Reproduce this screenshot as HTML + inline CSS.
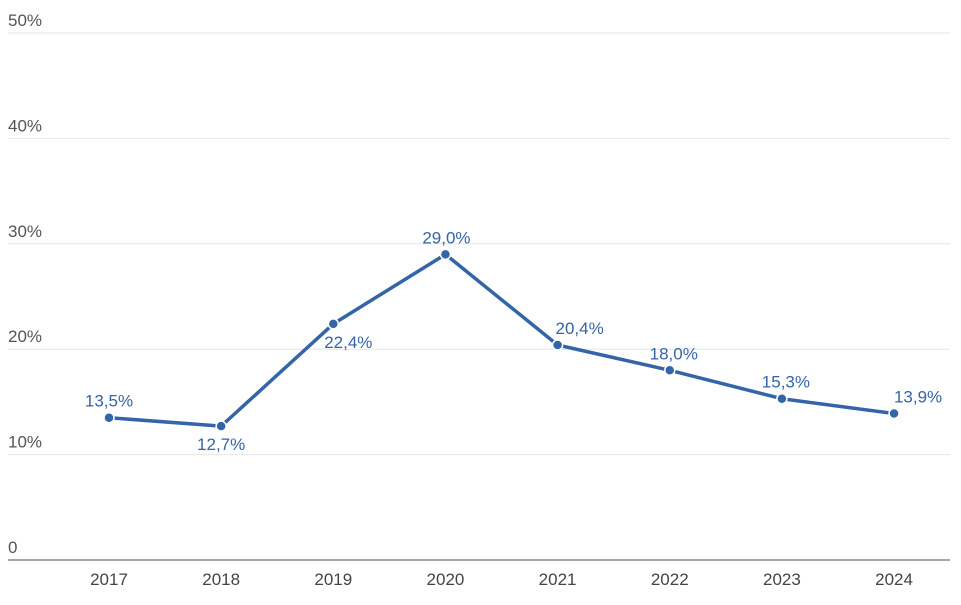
<!DOCTYPE html>
<html><head><meta charset="utf-8"><style>
body{margin:0;background:#fff;font-family:"Liberation Sans",sans-serif}
svg text{font-family:"Liberation Sans",sans-serif}
</style></head><body>
<svg id="chart" width="961" height="600" viewBox="0 0 961 600" xmlns="http://www.w3.org/2000/svg">
<g id="grid"></g><g id="yticks"></g><g id="xticks"></g><g id="series"></g><g id="labels"></g>
</svg>
<script>
const categories=["2017","2018","2019","2020","2021","2022","2023","2024"];
const values=[13.5,12.7,22.4,29.0,20.4,18.0,15.3,13.9];
const valueLabels=["13,5%","12,7%","22,4%","29,0%","20,4%","18,0%","15,3%","13,9%"];
const labelPlacement=["above","below","below","above","above","above","above","above"];
const yTicks=[0,10,20,30,40,50];
const yTickLabels=["0","10%","20%","30%","40%","50%"];
const NS="http://www.w3.org/2000/svg";
const x0=109,dx=112.15,yBase=560,pxPer=10.54;
const xs=i=>x0+i*dx;
const ys=v=>yBase-v*pxPer;
function mk(tag,attrs,parent){const e=document.createElementNS(NS,tag);for(const k in attrs)e.setAttribute(k,attrs[k]);parent.appendChild(e);return e;}
const grid=document.getElementById('grid'),yt=document.getElementById('yticks'),xt=document.getElementById('xticks'),se=document.getElementById('series'),lb=document.getElementById('labels');
yTicks.forEach((t,i)=>{
  const y=ys(t);
  const l=mk('line',{x1:8,x2:950,y1:y,y2:y,stroke:t===0?'#888':'#e6e6e6','stroke-width':t===0?1.5:1},grid);
  
  
  const tx=mk('text',{x:8,y:y-7,'font-size':17,fill:'#555'},yt);
  tx.textContent=yTickLabels[i];
  
  
});
categories.forEach((c,i)=>{
  const tx=mk('text',{x:xs(i),y:585,'font-size':17,fill:'#444','text-anchor':'middle'},xt);
  tx.textContent=c;
  
  
});
const pts=values.map((v,i)=>xs(i)+','+ys(v)).join(' ');
const pl=mk('polyline',{points:pts,fill:'none',stroke:'#3465a8','stroke-width':3.5,'stroke-linejoin':'round'},se);


values.forEach((v,i)=>{
  const c=mk('circle',{cx:xs(i),cy:ys(v),r:5,fill:'#3465a8',stroke:'#fff','stroke-width':1.5},se);
  
  
  const above=labelPlacement[i]==='above';
  const shift=i>=4?(i===7?24:i===4?22:4):(i===2?15:i===3?1:0);
  const tx=mk('text',{x:xs(i)+shift,y:above?ys(v)-11:ys(v)+24,'font-size':17,fill:'#3465a8','text-anchor':'middle'},lb);
  tx.textContent=valueLabels[i];
  
  
});
</script>
</body></html>
